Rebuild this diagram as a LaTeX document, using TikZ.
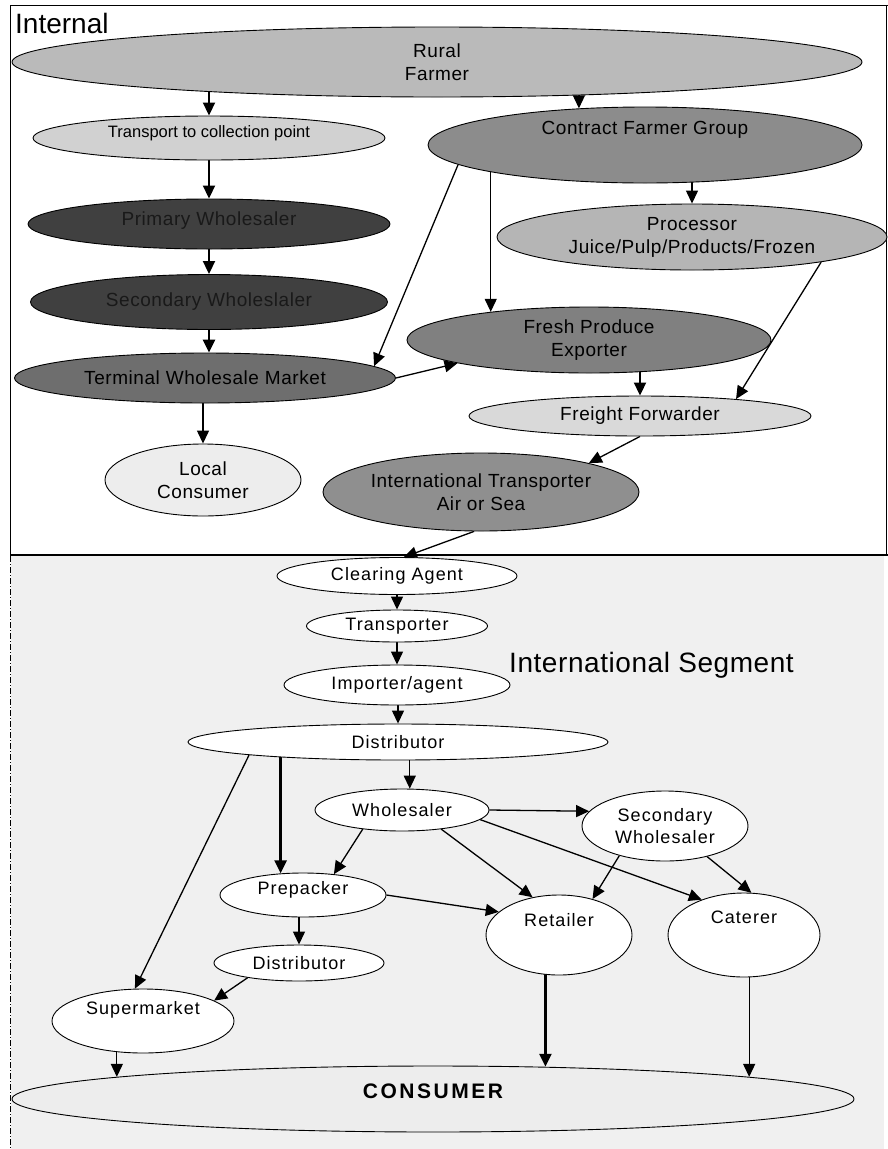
\documentclass[tikz,border=0pt]{standalone}
\usepackage{fontspec}
\setmainfont{Liberation Sans}
\newfontfamily\spUp[LetterSpace=3]{Liberation Sans}
\newfontfamily\spLo[LetterSpace=6]{Liberation Sans}
\newfontfamily\spCons[LetterSpace=12]{Liberation Sans}
\newfontfamily\spSeg[LetterSpace=2]{Liberation Sans}
\usetikzlibrary{shapes.geometric,arrows.meta}
\pgfdeclarelayer{bg}
\pgfdeclarelayer{edges}
\pgfsetlayers{bg,edges,main}
\definecolor{cRural}{gray}{0.73}
\definecolor{cTrans}{gray}{0.82}
\definecolor{cContract}{gray}{0.55}
\definecolor{cDark}{gray}{0.25}
\definecolor{cTerm}{gray}{0.43}
\definecolor{cProc}{gray}{0.71}
\definecolor{cFresh}{gray}{0.50}
\definecolor{cFreight}{gray}{0.85}
\definecolor{cLocal}{gray}{0.93}
\definecolor{cIntl}{gray}{0.56}
\definecolor{cBg}{gray}{0.94}
\definecolor{cCons}{gray}{0.93}
\begin{document}
\begin{tikzpicture}[x=1pt,y=-1pt,
  el/.style={ellipse,draw=black,line width=0.9pt,inner sep=0pt,align=center,font=\spUp\fontsize{19}{23}\selectfont},
  lo/.style={el,fill=white,font=\spLo\fontsize{18}{22}\selectfont},
  lbl/.style={align=center,font=\spUp\fontsize{19}{23}\selectfont},
  lbll/.style={align=center,font=\spLo\fontsize{18}{22}\selectfont},
  arr/.style={-{Triangle[length=13pt,width=12pt]},line width=1.3pt},
  mid/.style={-{Triangle[length=13pt,width=12pt]},line width=1.9pt},
  thk/.style={-{Triangle[length=13pt,width=12pt]},line width=2.6pt}]
\useasboundingbox (0,0) rectangle (888,1149);

% ---------- nodes: internal part ----------
\node[el,fill=cRural,minimum width=850pt,minimum height=70pt] (rural) at (437,62) {Rural\\Farmer};
\node[el,fill=cTrans,minimum width=352pt,minimum height=44pt,
  label={[font=\fontsize{16.5}{19}\selectfont,yshift=5pt]center:Transport to collection point}] (trans) at (209,138) {};
\node[el,fill=cContract,minimum width=434pt,minimum height=76pt,
  label={[lbl,yshift=15pt]center:Contract Farmer Group}] (contract) at (645,145) {};
\node[el,fill=cDark,minimum width=362pt,minimum height=50pt,
  label={[lbl,text=black!90,yshift=3pt]center:Primary Wholesaler}] (primary) at (209,224) {};
\node[el,fill=cProc,minimum width=390pt,minimum height=66pt] (proc) at (692,237) {Processor\\Juice/Pulp/Products/Frozen};
\node[el,fill=cDark,minimum width=357pt,minimum height=55pt,text=black!90] (secw) at (209,302) {Secondary Wholeslaler};
\node[el,fill=cFresh,minimum width=364pt,minimum height=66pt] (fresh) at (589,340) {Fresh Produce\\Exporter};
\node[el,fill=cTerm,minimum width=381pt,minimum height=50pt] (term) at (205,378) {Terminal Wholesale Market};
\node[el,fill=cFreight,minimum width=342pt,minimum height=40pt] (freight) at (640,416) {Freight Forwarder};
\node[el,fill=cLocal,minimum width=196pt,minimum height=72pt] (local) at (203,480) {Local\\Consumer};
\node[el,fill=cIntl,minimum width=316pt,minimum height=78pt] (intl) at (481,492) {International Transporter\\Air or Sea};
\node[anchor=west,font=\fontsize{28}{32}\selectfont,inner sep=0pt] (internal) at (15,23) {Internal};

% ---------- nodes: international segment ----------
\node[lo,minimum width=240pt,minimum height=37pt] (clear) at (397,576) {Clearing Agent};
\node[lo,minimum width=181pt,minimum height=32pt] (transp) at (397,626) {Transporter};
\node[lo,minimum width=226pt,minimum height=40pt] (importer) at (397,685) {Importer/agent};
\node[lo,minimum width=420pt,minimum height=36pt] (dist) at (398,742) {Distributor};
\node[anchor=west,font=\spSeg\fontsize{28}{32}\selectfont,inner sep=0pt] (intseg) at (509,665) {International Segment};
\node[lo,minimum width=174pt,minimum height=42pt] (wh) at (402,810) {Wholesaler};
\node[lo,minimum width=166pt,minimum height=70pt] (secw2) at (665,826) {Secondary\\Wholesaler};
\node[lo,minimum width=166pt,minimum height=44pt,
  label={[lbll,yshift=5pt]center:Prepacker}] (prep) at (303,895) {};
\node[lo,minimum width=146pt,minimum height=80pt,
  label={[lbll,yshift=15pt]center:Retailer}] (ret) at (559,935) {};
\node[lo,minimum width=152pt,minimum height=84pt,
  label={[lbll,yshift=18pt]center:Caterer}] (cat) at (744,935) {};
\node[lo,minimum width=170pt,minimum height=36pt] (dist2) at (299,963) {Distributor};
\node[lo,minimum width=182pt,minimum height=64pt,
  label={[lbll,yshift=11pt]center:Supermarket}] (super) at (143,1021) {};
\node[el,fill=cCons,minimum width=842pt,minimum height=66pt,
  label={[font=\spCons\fontsize{21}{25}\selectfont\bfseries,yshift=8pt]center:CONSUMER}] (cons) at (433,1099) {};

% ---------- frame ----------
\begin{pgfonlayer}{bg}
\fill[cBg] (11,556) rectangle (884,1149);
\draw[line width=1pt] (10,555) -- (10,5) -- (888,5);
\draw[line width=1pt] (886,5) -- (886,555);
\draw[line width=2.6pt] (10,555) -- (888,555);
\draw[line width=0.8pt,dash pattern=on 6pt off 2pt on 1pt off 2pt] (10,556) -- (10,1149);
\end{pgfonlayer}

% ---------- connectors ----------
\begin{pgfonlayer}{edges}
\draw[mid] (trans.north |- rural.center) -- (trans.north);
\draw[arr] (contract.151 |- rural.center) -- (contract.151);
\draw[mid] (primary.north |- trans.center) -- (primary.north);
\draw[mid] (secw.north |- primary.center) -- (secw.north);
\draw[thk] (secw.center) -- (secw.center |- term.north);
\draw[arr] (contract.186) -- (term.4);
\draw[arr] (fresh.164 |- contract.center) -- (fresh.164);
\draw[arr] (proc.north |- contract.center) -- (proc.north);
\draw[arr] (proc.-11) -- (freight.10);
\draw[arr] (term.east) -- (fresh.190);
\draw[mid] (freight.north |- fresh.center) -- (freight.north);
\draw[arr] (local.north |- term.center) -- (local.north);
\draw[arr] (freight.south) -- (intl.15);
\draw[arr] (intl.-100) -- (clear.70);
\draw[arr] (transp.north |- clear.center) -- (transp.north);
\draw[arr] (importer.north |- transp.center) -- (importer.north);
\draw[arr] (dist.north |- importer.center) -- (dist.north);
\draw[arr] (wh.70 |- dist.center) -- (wh.70);
\draw[thk] (prep.136 |- dist.center) -- (prep.136);
\draw[arr] (dist.185) -- (super.104);
\draw[arr] (wh.east) -- (secw2.169);
\draw[arr] (wh.206) -- (prep.34);
\draw[arr] (wh.-26) -- (ret.125);
\draw[arr] (wh.-7) -- (cat.140);
\draw[arr] (secw2.213) -- (ret.47);
\draw[arr] (secw2.-36) -- (cat.80);
\draw[arr] (prep.east) -- (ret.159);
\draw[arr] (dist2.north |- prep.center) -- (dist2.north);
\draw[arr] (dist2.196) -- (super.16);
\draw[arr] (cons.176 |- super.center) -- (cons.176);
\draw[thk] (cons.16 |- ret.center) -- (cons.16);
\draw[arr] (cons.4.5 |- cat.center) -- (cons.4.5);
\end{pgfonlayer}
\end{tikzpicture}
\end{document}
